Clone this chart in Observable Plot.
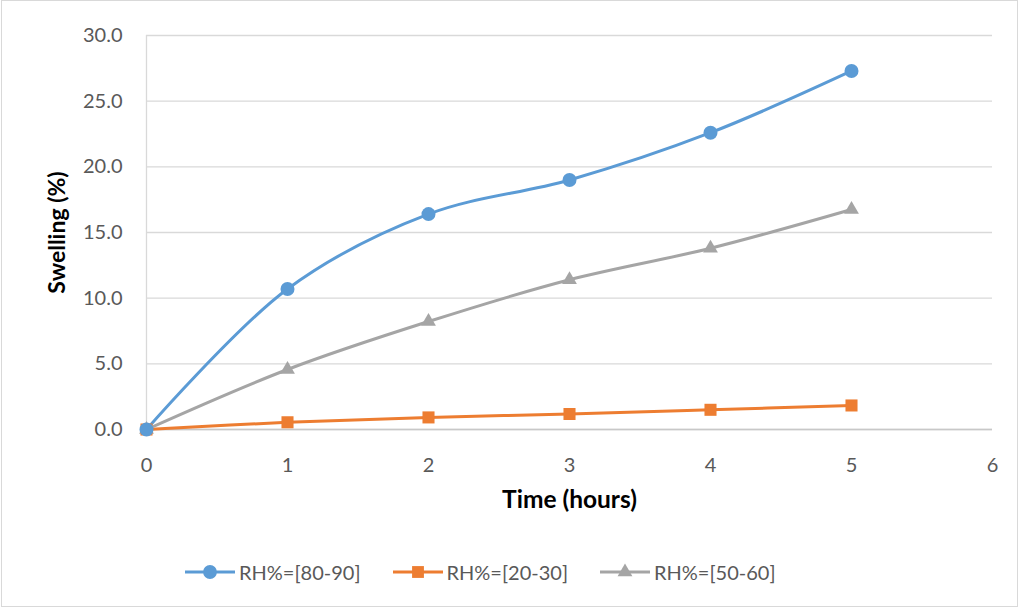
<!DOCTYPE html>
<html>
<head>
<meta charset="utf-8">
<script src="https://cdn.jsdelivr.net/npm/d3@7"></script>
<script src="https://cdn.jsdelivr.net/npm/@observablehq/plot@0.6"></script>
<style>
  html, body { margin: 0; padding: 0; background: #fff; }
  #wrap { position: relative; width: 1021px; height: 611px; font-family: Lato, "Open Sans", sans-serif; }
  #frame { position: absolute; left: 1px; top: 0px; width: 1017px; height: 607px; border: 1px solid #d9d9d9; box-sizing: border-box; pointer-events: none; }
  #legend { position: absolute; left: 184px; top: 560px; display: flex; gap: 31px; font-size: 20px; color: #595959; }
  .item { display: flex; align-items: center; gap: 3px; }
</style>
</head>
<body>
<div id="wrap">
  <div id="chart"></div>
  <div id="legend"></div>
  <div id="frame"></div>
</div>
<script>
const hours = [0, 1, 2, 3, 4, 5];
const rh8090 = [0, 10.7, 16.4, 19.0, 22.6, 27.3];
const rh2030 = [0, 0.55, 0.92, 1.18, 1.5, 1.83];
const rh5060 = [0, 4.57, 8.22, 11.4, 13.8, 16.75];
const seriesNames = ["RH%=[80-90]", "RH%=[20-30]", "RH%=[50-60]"];
const seriesColors = ["#5b9bd5", "#ed7d31", "#a5a5a5"];
const seriesSymbols = ["circle", "square", "triangle"];
const yTicks = [0, 5, 10, 15, 20, 25, 30];
const xTicks = [0, 1, 2, 3, 4, 5, 6];

const allValues = [rh8090, rh2030, rh5060];
const data = [];
allValues.forEach((vals, si) => {
  vals.forEach((v, i) => data.push({series: seriesNames[si], hour: hours[i], value: v}));
});

const font = "Lato, 'Open Sans', sans-serif";
const chart = Plot.plot({
  width: 1021,
  height: 611,
  marginLeft: 146,
  marginRight: 29,
  marginTop: 35,
  marginBottom: 182,
  style: {fontFamily: font, fontSize: "20px", color: "#595959", background: "transparent"},
  x: {domain: [0, 6]},
  y: {domain: [0, 30]},
  color: {domain: seriesNames, range: seriesColors},
  symbol: {domain: seriesNames, range: seriesSymbols},
  marks: [
    Plot.gridY(yTicks, {stroke: "#d9d9d9", strokeOpacity: 1, strokeWidth: 1.3}),
    Plot.ruleX([0], {stroke: "#d9d9d9", strokeWidth: 1.3}),
    Plot.ruleY([0], {stroke: "#c8c8c8", strokeWidth: 1.5}),
    Plot.axisY(yTicks, {tickSize: 0, tickPadding: 24, tickFormat: d3.format(".1f"), fill: "#595959",
      label: "Swelling (%)", labelAnchor: "center", labelArrow: "none", labelOffset: 98}),
    Plot.axisX(xTicks, {tickSize: 0, tickPadding: 28, tickFormat: d3.format("d"), fill: "#595959",
      label: "Time (hours)", labelAnchor: "center", labelArrow: "none", labelOffset: 78}),
    Plot.line(data, {x: "hour", y: "value", z: "series", stroke: "series", strokeWidth: 3, curve: "catmull-rom"}),
    Plot.dot(data.filter(d => d.series === seriesNames[2]), {x: "hour", y: "value", symbol: "series", fill: "series", r: 5.5}),
    Plot.dot(data.filter(d => d.series === seriesNames[1]), {x: "hour", y: "value", symbol: "series", fill: "series", r: 6.8}),
    Plot.dot(data.filter(d => d.series === seriesNames[0]), {x: "hour", y: "value", symbol: "series", fill: "series", r: 7})
  ]
});
document.getElementById("chart").appendChild(chart);
const sel = d3.select(chart);
sel.selectAll("g[aria-label='y-axis tick label'], g[aria-label='x-axis tick label']")
  .attr("font-size", 20).style("font-size", "20px");
sel.selectAll("g[aria-label='y-axis label'], g[aria-label='x-axis label']")
  .attr("font-weight", "bold").attr("fill", "#000");
sel.selectAll("g[aria-label='y-axis label'] text")
  .style("font-weight", "bold").style("font-size", "23px").attr("fill", "#000");
sel.selectAll("g[aria-label='x-axis label'] text")
  .style("font-weight", "bold").style("font-size", "24.5px").attr("fill", "#000");

// legend
const legend = d3.select("#legend");
seriesNames.forEach((name, i) => {
  const item = legend.append("div").attr("class", "item");
  const svg = item.append("svg").attr("width", 52).attr("height", 20);
  svg.append("line").attr("x1", 1).attr("x2", 51).attr("y1", 10).attr("y2", 10)
    .attr("stroke", seriesColors[i]).attr("stroke-width", 3);
  const sym = [d3.symbolCircle, d3.symbolSquare, d3.symbolTriangle][i];
  const size = [150, 140, 95][i];
  svg.append("path").attr("d", d3.symbol(sym, size)()).attr("transform", "translate(26,10)")
    .attr("fill", seriesColors[i]);
  item.append("span").text(name);
});
</script>
</body>
</html>
